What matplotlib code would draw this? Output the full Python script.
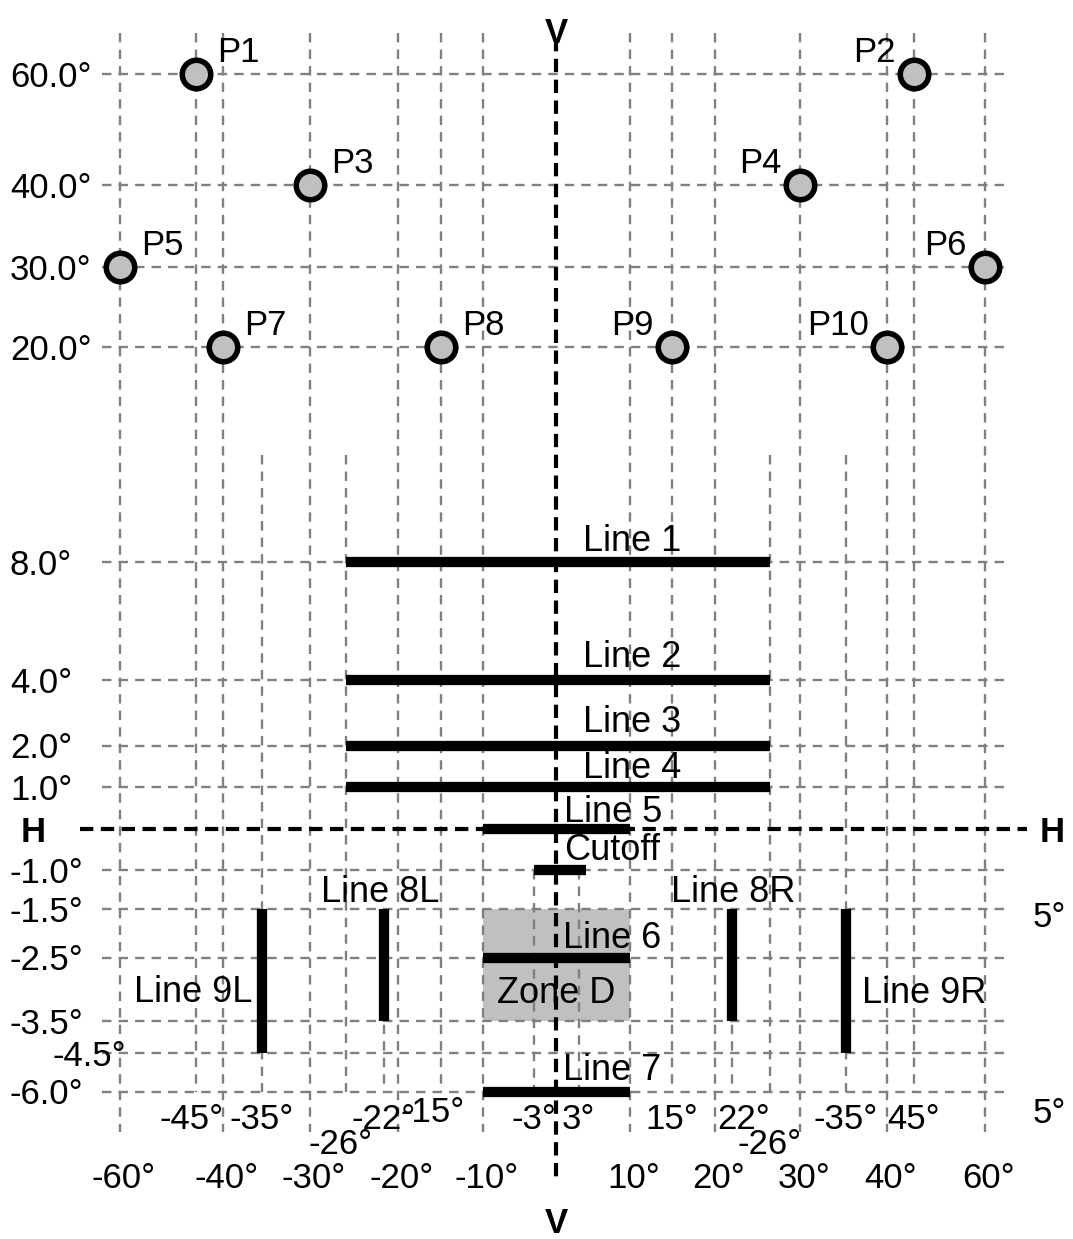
import numpy as np
import matplotlib
matplotlib.use('Agg')
import matplotlib.pyplot as plt

plt.rcParams['font.family'] = ['Liberation Sans', 'DejaVu Sans']

W, H = 1073, 1239
FS = 25
FSL = 26

# ---------------- data ----------------
point_names = ['P1', 'P2', 'P3', 'P4', 'P5', 'P6', 'P7', 'P8', 'P9', 'P10']
point_h = [-45, 45, -30, 30, -60, 60, -40, -15, 15, 40]
point_v = [60, 60, 40, 40, 30, 30, 20, 20, 20, 20]

hline_names = ['Line 1', 'Line 2', 'Line 3', 'Line 4', 'Line 5', 'Cutoff', 'Line 6', 'Line 7']
hline_v = [8, 4, 2, 1, 0, -1, -2.5, -6]
hline_h0 = [-26, -26, -26, -26, -10, -3, -10, -10]
hline_h1 = [26, 26, 26, 26, 10, 4, 10, 10]

vline_names = ['Line 8L', 'Line 8R', 'Line 9L', 'Line 9R']
vline_h = [-22, 22, -35, 35]
vline_v0 = [-1.5, -1.5, -1.5, -1.5]
vline_v1 = [-3.5, -3.5, -4.5, -4.5]

zone_name = 'Zone D'
zone_h = [-10, 10]
zone_v = [-3.5, -1.5]

ytick_vals = [60, 40, 30, 20, 8, 4, 2, 1, -1, -1.5, -2.5, -3.5, -4.5, -6]
ytick_labels = ['60.0°', '40.0°', '30.0°', '20.0°', '8.0°', '4.0°', '2.0°', '1.0°',
                '-1.0°', '-1.5°', '-2.5°', '-3.5°', '-4.5°', '-6.0°']

xrow1_vals = [-45, -35, -22, -15, -3, 3, 15, 22, 35, 45]
xrow1_labels = ['-45°', '-35°', '-22°', '-15°', '-3°', '3°', '15°', '22°', '-35°', '45°']
xrow2_vals = [-26, 26]
xrow2_labels = ['-26°', '-26°']
xrow3_vals = [-60, -40, -30, -20, -10, 10, 20, 30, 40, 60]
xrow3_labels = ['-60°', '-40°', '-30°', '-20°', '-10°', '10°', '20°', '30°', '40°', '60°']

side_labels = ['5°', '5°']

# vertical grid groups (value lists)
vgrid_full = [-60, -40, -30, -20, -10, 10, 20, 30, 40, 60]
vgrid_top6 = [-45, -15, 15, 45]
vgrid_mid = [-35, -26, 26, 35]
vgrid_22 = [-22, 22]
vgrid_3 = [-3, 3]

# ---------------- piecewise scales ----------------
XV = np.array([-200, -60, -45, -40, -35, -30, -26, -22, -20, -15, -10, -3, 0,
               3, 10, 15, 20, 22, 26, 30, 35, 40, 45, 60, 200], float)
XP = np.array([-589, 120, 196, 223, 262, 310, 346, 384, 398, 441, 483, 534, 556,
               578.5, 629.5, 672, 715, 731.5, 770, 800, 846, 887, 913.5, 984.5, 1647], float)
YV = np.array([-30, -6, -4.5, -3.5, -2.5, -1.5, -1, 0, 1, 2, 4, 8, 20, 30, 40, 60, 200], float)
YP = np.array([1708, 1091.5, 1053, 1021, 957.5, 909, 870, 829, 786.5, 745.5, 680, 562,
               347, 267, 185, 74, -703], float)


def fx(v):
    return np.interp(np.asarray(v, float), XV, XP)


def ix(p):
    return np.interp(np.asarray(p, float), XP, XV)


def fy(v):
    return -np.interp(np.asarray(v, float), YV, YP)


def iy(u):
    return np.interp(-np.asarray(u, float), YP[::-1], YV[::-1])


def px2x(p):
    return float(ix(p))


def py2y(p):
    return float(iy(-p))


fig = plt.figure(figsize=(W / 100, H / 100), dpi=100)
ax = fig.add_axes([0, 0, 1, 1])
ax.set_xscale('function', functions=(fx, ix))
ax.set_yscale('function', functions=(fy, iy))
ax.set_xlim(px2x(0), px2x(W))
ax.set_ylim(py2y(H), py2y(0))
ax.axis('off')

GRID = dict(color='#808080', lw=1.7, ls=(0, (4, 3)), zorder=2)

# horizontal grid
gx0, gx1 = px2x(102), px2x(1008)
for v in ytick_vals:
    ax.plot([gx0, gx1], [v, v], **GRID)

# vertical grid
ytop = py2y(33)
ybot = py2y(1132)
for h in vgrid_full:
    ax.plot([h, h], [ytop, ybot], **GRID)
for h in vgrid_top6:
    ax.plot([h, h], [ytop, -6], **GRID)
for h in vgrid_mid:
    ax.plot([h, h], [14, -6], **GRID)
for h in vgrid_22:
    ax.plot([h, h], [-1.5, -6], **GRID)
for h in vgrid_3:
    ax.plot([h, h], [-1, -6], **GRID)

# zone
ax.fill([zone_h[0], zone_h[1], zone_h[1], zone_h[0]],
        [zone_v[0], zone_v[0], zone_v[1], zone_v[1]],
        color='#c0c0c0', lw=0, zorder=1)
ax.text(0, -3, zone_name, ha='center', va='center_baseline', fontsize=FSL, zorder=6)

# H and V axes
AXL = dict(color='black', lw=3, ls=(0, (3.2, 1.8)), zorder=3)
ax.plot([px2x(80), px2x(1027)], [0, 0], **AXL)
ax.plot([0, 0], [py2y(38), py2y(1178)], **AXL)
BOLD = dict(fontsize=FS, fontweight='bold', ha='center', va='center_baseline')
ax.text(px2x(33), 0, 'H', **BOLD)
ax.text(px2x(1052), 0, 'H', **BOLD)
ax.text(0, py2y(30), 'V', **BOLD)
ax.text(0, py2y(1220), 'V', **BOLD)

# horizontal bars
hl_off = [(27, 11), (27, 13), (27, 14), (27, 9), (8, 7), (8, 10), (7, 9), (7, 12)]
for name, v, h0, h1, off in zip(hline_names, hline_v, hline_h0, hline_h1, hl_off):
    ax.plot([h0, h1], [v, v], color='black', lw=7.4, solid_capstyle='butt', zorder=4)
    ax.annotate(name, xy=(0, v), xytext=off, textcoords='offset pixels',
                ha='left', va='baseline', fontsize=FSL, zorder=6)

# vertical bars
for name, h, v0, v1 in zip(vline_names, vline_h, vline_v0, vline_v1):
    ax.plot([h, h], [v0, v1], color='black', lw=7.4, solid_capstyle='butt', zorder=4)
ax.annotate(vline_names[0], xy=(vline_h[0], vline_v0[0]), xytext=(-4, 7),
            textcoords='offset pixels', ha='center', va='baseline', fontsize=FSL)
ax.annotate(vline_names[1], xy=(vline_h[1], vline_v0[1]), xytext=(2, 7),
            textcoords='offset pixels', ha='center', va='baseline', fontsize=FSL)
ax.annotate(vline_names[2], xy=(vline_h[2], -3), xytext=(-10, 1),
            textcoords='offset pixels', ha='right', va='center_baseline', fontsize=FSL)
ax.annotate(vline_names[3], xy=(vline_h[3], -3), xytext=(16, 0),
            textcoords='offset pixels', ha='left', va='center_baseline', fontsize=FSL)

# points
ax.plot(point_h, point_v, 'o', ms=20.5, mfc='#c0c0c0', mec='black', mew=4,
        ls='none', zorder=5)
for name, h, v in zip(point_names, point_h, point_v):
    if h < 0:
        ax.annotate(name, xy=(h, v), xytext=(21, 12), textcoords='offset pixels',
                    ha='left', va='baseline', fontsize=FS, zorder=6)
    else:
        ax.annotate(name, xy=(h, v), xytext=(-18, 12), textcoords='offset pixels',
                    ha='right', va='baseline', fontsize=FS, zorder=6)

# y tick labels
for v, lab in zip(ytick_vals, ytick_labels):
    xl = px2x(52) if v == -4.5 else px2x(10)
    ax.text(xl, v, lab, ha='left', va='center_baseline', fontsize=FS)

# x tick labels
nudge1 = {-45: (-4, 0), -15: (-8, -7), 22: (12, 0)}
for v, lab in zip(xrow1_vals, xrow1_labels):
    dx, dy = nudge1.get(v, (0, 0))
    ax.annotate(lab, xy=(v, py2y(1116)), xytext=(dx, -dy), textcoords='offset pixels',
                ha='center', va='center_baseline', fontsize=FS)
for v, lab in zip(xrow2_vals, xrow2_labels):
    dx = -5 if v < 0 else 0
    ax.annotate(lab, xy=(v, py2y(1141)), xytext=(dx, 0), textcoords='offset pixels',
                ha='center', va='center_baseline', fontsize=FS)
for v, lab in zip(xrow3_vals, xrow3_labels):
    ax.annotate(lab, xy=(v, py2y(1175)), xytext=(4, 0), textcoords='offset pixels',
                ha='center', va='center_baseline', fontsize=FS)

# right side labels
ax.text(px2x(1033), py2y(914), side_labels[0], ha='left', va='center_baseline', fontsize=FS)
ax.text(px2x(1033), py2y(1110), side_labels[1], ha='left', va='center_baseline', fontsize=FS)

fig.savefig('out.png', dpi=100)
